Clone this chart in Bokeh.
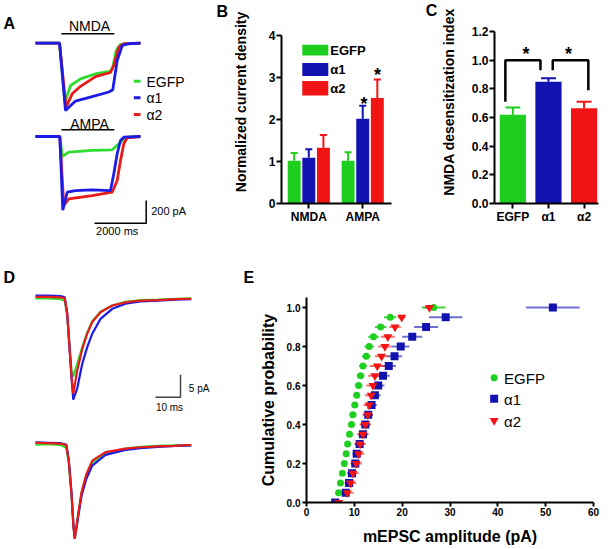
from bokeh.plotting import figure
from bokeh.layouts import row, column
from bokeh.models import Label, FixedTicker, PrintfTickFormatter, Range1d
from bokeh.embed import file_html
from bokeh.resources import INLINE

FONT = "Liberation Sans"
GREEN, BLUE, RED = "#1fcf1f", "#1212b0", "#f21414"
TGREEN, TBLUE, TRED = "#30dc30", "#1c1ce6", "#e91a1a"

# ---------------- DATA ----------------
# Panel A: whole-cell currents (time in ms, current in pA)
a_t_nmda_egfp = [0, 930, 1140, 1354, 1741, 2321, 2901, 2990, 3121, 3288, 4060]
a_i_nmda_egfp = [0, 0, -520, -373, -314, -270, -247, -211, -64, -10, 0]
a_t_nmda_a1 = [0, 930, 1160, 1547, 2193, 2837, 2990, 3160, 3354, 3600, 4060]
a_i_nmda_a1 = [0, 0, -593, -510, -470, -430, -410, -152, -20, -5, 0]
a_t_nmda_a2 = [0, 930, 1180, 1420, 1741, 2321, 2901, 3029, 3222, 3420, 4060]
a_i_nmda_a2 = [0, 0, -564, -446, -380, -295, -258, -196, -35, -5, 0]
a_t_ampa_egfp = [0, 940, 1033, 1288, 2193, 2967, 3222, 3415, 3597, 4060]
a_i_ampa_egfp = [0, 0, -176, -138, -123, -117, -64, -20, -5, 0]
a_t_ampa_a1 = [0, 940, 1055, 1225, 1547, 2193, 2901, 3029, 3160, 3288, 3416, 4060]
a_i_ampa_a1 = [0, 0, -650, -491, -476, -470, -476, -328, -152, -35, -6, 0]
a_t_ampa_a2 = [0, 940, 1095, 1288, 2193, 2967, 3160, 3288, 3416, 3545, 4060]
a_i_ampa_a2 = [0, 0, -608, -549, -520, -491, -388, -211, -64, -11, 0]
a_application = [1000, 3050]          # ms, agonist application bar
a_scale_ms, a_scale_pa = 2000, 200

# Panel B: normalized current density
b_conditions = ["NMDA", "AMPA"]
b_egfp = [1.02, 1.02]
b_egfp_sem = [0.18, 0.20]
b_a1 = [1.09, 2.02]
b_a1_sem = [0.20, 0.31]
b_a2 = [1.33, 2.51]
b_a2_sem = [0.30, 0.44]

# Panel C: NMDA desensitization index
c_groups = ["EGFP", "\u03b11", "\u03b12"]
c_mean = [0.62, 0.85, 0.665]
c_sem = [0.05, 0.023, 0.045]

# Panel D: averaged mEPSCs (time in ms, current in pA)
d_t_top = [0, 5, 10, 11.7, 12.7, 13.6, 14.4, 15.1, 16.7, 18.7, 20.7, 22.7, 26, 30.7, 36, 42, 49, 56, 62.3]
d_top_egfp = [-0.4, -0.4, -0.6, -1.0, -4.2, -11.0, -16.5, -17.9, -15.0, -11.3, -8.0, -5.5, -3.4, -2.0, -1.2, -0.8, -0.7, -0.5, -0.4]
d_top_a1 = [0.2, 0.2, 0.1, -0.2, -3.9, -11.3, -18.0, -23.0, -20.5, -15.0, -11.3, -8.3, -5.0, -2.75, -1.6, -1.1, -0.9, -0.7, -0.6]
d_top_a2 = [-0.1, -0.1, -0.2, -0.4, -3.9, -11.3, -18.0, -21.7, -16.5, -11.7, -8.3, -5.7, -3.5, -2.0, -1.3, -0.9, -0.8, -0.6, -0.5]
d_t_bot = [0, 5, 10, 12.3, 13.3, 14.4, 15.2, 15.7, 17.1, 18.4, 20.3, 22.7, 28, 36, 42, 49, 56, 62.3]
d_bot_egfp = [-0.3, -0.2, -0.4, -1.0, -4.3, -11.5, -18.7, -21.3, -15.8, -11.2, -7.3, -4.3, -2.2, -1.2, -0.8, -0.6, -0.5, -0.5]
d_bot_a1 = [0.2, 0.1, 0.0, -0.3, -3.7, -11.0, -18.5, -21.3, -16.3, -11.8, -8.0, -5.0, -2.6, -1.5, -1.1, -0.8, -0.6, -0.5]
d_bot_a2 = [0.1, 0.0, -0.1, -0.4, -3.9, -11.3, -18.7, -21.3, -15.8, -11.0, -7.0, -3.9, -2.0, -1.2, -0.9, -0.7, -0.6, -0.4]
d_scale_ms, d_scale_pa = 10, 5

# Panel E: cumulative probability of mEPSC amplitude
e_prob = [0.0, 0.05, 0.1, 0.15, 0.2, 0.25, 0.3, 0.35, 0.4, 0.45, 0.5,
          0.55, 0.6, 0.65, 0.7, 0.75, 0.8, 0.85, 0.9, 0.95, 1.0]
e_egfp = [6.0, 6.7, 7.1, 7.5, 7.9, 8.3, 8.6, 9.0, 9.4, 9.7, 10.1, 10.5, 10.9, 11.3, 11.8, 12.5, 13.1, 14.0, 15.5, 17.5, 26.6]
e_egfp_sem = [0.3, 0.5, 0.5, 0.5, 0.5, 0.6, 0.6, 0.6, 0.6, 0.7, 0.7, 0.7, 0.8, 0.8, 0.8, 0.9, 1.0, 1.1, 1.2, 1.3, 2.5]
e_a1 = [6.0, 8.2, 8.9, 9.5, 10.2, 10.5, 11.1, 11.8, 12.3, 12.9, 13.6, 14.3, 15.0, 16.0, 17.2, 18.4, 19.7, 22.1, 25.0, 29.1, 51.5]
e_a1_sem = [0.3, 0.9, 0.9, 0.9, 0.9, 0.9, 1.0, 1.0, 1.0, 1.0, 1.1, 1.2, 1.3, 1.4, 1.5, 1.6, 1.8, 2.1, 2.5, 3.5, 5.6]
e_a2 = [6.7, 8.5, 9.2, 9.7, 10.4, 10.9, 11.2, 11.8, 12.3, 12.8, 13.1, 13.5, 13.9, 14.3, 14.8, 15.7, 16.4, 17.0, 18.5, 19.9, 25.7]
e_a2_sem = [0.5, 1.3, 1.2, 1.2, 1.2, 1.2, 1.2, 1.2, 1.2, 1.1, 1.2, 1.3, 1.4, 1.4, 1.6, 1.4, 1.4, 1.45, 1.2, 0.8, 1.0]


# ---------------- HELPERS ----------------
def make_fig(box, frame, xr, yr, axes):
    x0, y0, x1, y1 = box
    fx0, fx1, fy0, fy1 = frame
    p = figure(width=x1 - x0, height=y1 - y0,
               x_range=Range1d(*xr), y_range=Range1d(*yr),
               output_backend="svg", toolbar_location=None,
               min_border_left=int(round(fx0 - x0)), min_border_right=int(round(x1 - fx1)),
               min_border_top=int(round(fy0 - y0)), min_border_bottom=int(round(y1 - fy1)),
               x_axis_location="below" if axes else None,
               y_axis_location="left" if axes else None)
    p.frame_align = False
    p.outline_line_color = None
    p.xgrid.grid_line_color = None
    p.ygrid.grid_line_color = None
    p.background_fill_color = "white"
    p.border_fill_color = "white"

    def m(xref, yref):
        x = xr[0] + (xref - fx0) / (fx1 - fx0) * (xr[1] - xr[0])
        y = yr[1] - (yref - fy0) / (fy1 - fy0) * (yr[1] - yr[0])
        return x, y
    return p, m


def text(p, m, xref, yref, s, size, style="normal", align="left", color="black"):
    x, y = m(xref, yref)
    p.add_layout(Label(x=x, y=y, text=s, text_font=FONT, text_font_size=size,
                       text_font_style=style, text_align=align,
                       text_baseline="middle", text_color=color))


def style_axis(ax, tick_size, label_size, tick_out=5, label_standoff=1):
    ax.axis_line_width = 2
    ax.axis_line_color = "black"
    ax.major_tick_line_width = 2
    ax.major_tick_line_color = "black"
    ax.major_tick_in = 0
    ax.major_tick_out = tick_out
    ax.minor_tick_line_color = None
    ax.major_label_text_font = FONT
    ax.major_label_text_font_style = "bold"
    ax.major_label_text_font_size = tick_size
    ax.major_label_text_color = "black"
    ax.major_label_standoff = label_standoff
    ax.axis_label_text_font = FONT
    ax.axis_label_text_font_style = "bold"
    ax.axis_label_text_font_size = label_size
    ax.axis_label_text_color = "black"


# ---------------- PANEL A ----------------
A_MS_PX = 2000 / 51.7
A_PA_PX = 200 / 22.7
A_X0, A_Y0 = 35, 42.7
boxA = (0, 0, 229, 250)
xrA = ((boxA[0] - A_X0) * A_MS_PX, (boxA[2] - A_X0) * A_MS_PX)
yrA = ((A_Y0 - boxA[3]) * A_PA_PX, (A_Y0 - boxA[1]) * A_PA_PX)
pA, mA = make_fig(boxA, (boxA[0], boxA[2], boxA[1], boxA[3]), xrA, yrA, False)
AMPA_OFF = -(136 - A_Y0) * A_PA_PX

for t, i, c in [(a_t_nmda_egfp, a_i_nmda_egfp, TGREEN), (a_t_nmda_a2, a_i_nmda_a2, TRED),
                (a_t_nmda_a1, a_i_nmda_a1, TBLUE)]:
    pA.line(t, i, line_color=c, line_width=2.8)
for t, i, c in [(a_t_ampa_egfp, a_i_ampa_egfp, TGREEN), (a_t_ampa_a2, a_i_ampa_a2, TRED),
                (a_t_ampa_a1, a_i_ampa_a1, TBLUE)]:
    pA.line(t, [v + AMPA_OFF for v in i], line_color=c, line_width=2.8)

for yref in (33.3, 129.3):
    _, yy = mA(0, yref)
    pA.line(a_application, [yy, yy], line_color="black", line_width=1.5)
text(pA, mA, 89, 25.7, "NMDA", "14px", align="center")
text(pA, mA, 89, 123.3, "AMPA", "14px", align="center")

for yref, c, lab in [(80.7, TGREEN, "EGFP"), (97.3, TBLUE, "\u03b11"), (114, TRED, "\u03b12")]:
    xa, ya = mA(133.3, yref)
    xb, _ = mA(140, yref)
    pA.line([xa, xb], [ya, ya], line_color=c, line_width=3)
    text(pA, mA, 146, yref + 0.5, lab, "14px")

cx, cy = mA(145.7, 222.7)
pA.line([cx - a_scale_ms, cx, cx], [cy, cy, cy + a_scale_pa], line_color="black", line_width=1.5)
text(pA, mA, 150.7, 210, "200 pA", "11px")
text(pA, mA, 116.7, 230.3, "2000 ms", "11px", align="center")
text(pA, mA, 3, 23, "A", "16px", style="bold")
text(pA, mA, 216, 11, "B", "16px", style="bold")

# ---------------- PANEL B ----------------
boxB = (229, 0, 437, 250)
frameB = (277, 437, 0, 203)
B_PX = 55.3          # px per group
B_PY = 42.0          # px per unit
xrB = (1 - (305 - frameB[0]) / B_PX, 1 + (frameB[1] - 305) / B_PX)
yrB = (0, (frameB[3] - frameB[2]) / B_PY)
pB, mB = make_fig(boxB, frameB, xrB, yrB, True)
bw, off = 0.24, 0.271
for k, (vals, sems, c) in enumerate([(b_egfp, b_egfp_sem, GREEN), (b_a1, b_a1_sem, BLUE),
                                      (b_a2, b_a2_sem, RED)]):
    xs = [g + 1 + (k - 1) * off for g in range(len(b_conditions))]
    tops = [v + s for v, s in zip(vals, sems)]
    pB.segment(x0=xs, y0=vals, x1=xs, y1=tops, line_color=c, line_width=2)
    pB.scatter(xs, tops, marker="dash", size=7, line_color=c, line_width=2)
    pB.vbar(x=xs, top=vals, bottom=0, width=bw, fill_color=c, line_color=None)

style_axis(pB.xaxis[0], "12px", "14px", tick_out=5, label_standoff=1)
style_axis(pB.yaxis[0], "12px", "14px", tick_out=5, label_standoff=1)
pB.xaxis.ticker = FixedTicker(ticks=[1, 2])
pB.xaxis.major_label_overrides = {1: b_conditions[0], 2: b_conditions[1]}
pB.xaxis.bounds = (xrB[0], 2 + (390 - 360.3) / B_PX)
pB.yaxis.ticker = FixedTicker(ticks=[0, 1, 2, 3, 4])
pB.yaxis.bounds = (0, 4)
pB.yaxis.axis_label = "Normalized current density"
pB.yaxis.axis_label_standoff = 17

for (y0r, y1r), c, lab in [((44.3, 55), GREEN, "EGFP"), ((62.5, 75.5), BLUE, "\u03b11"),
                           ((80.5, 95), RED, "\u03b12")]:
    xa, ya = mB(298.3, y1r)
    xb, yb = mB(325, y0r)
    pB.quad(left=xa, right=xb, bottom=ya, top=yb, fill_color=c, line_color=None)
    text(pB, mB, 327, (y0r + y1r) / 2, lab, "13px", style="bold")
text(pB, mB, 361.5, 103, "*", "18px", style="bold", align="center")
text(pB, mB, 375.5, 74, "*", "18px", style="bold", align="center")
text(pB, mB, 425, 10, "C", "16px", style="bold")

# ---------------- PANEL C ----------------
boxC = (437, 0, 606, 250)
frameC = (492, 598, 0, 203)
C_PX = 36.3
C_PY = (203 - 31) / 1.2
xrC = (-(510.7 - frameC[0]) / C_PX, (frameC[1] - 510.7) / C_PX)
yrC = (0, (frameC[3] - frameC[2]) / C_PY)
pC, mC = make_fig(boxC, frameC, xrC, yrC, True)
cols = [GREEN, BLUE, RED]
xsC = list(range(len(c_groups)))
topsC = [v + s for v, s in zip(c_mean, c_sem)]
pC.segment(x0=xsC, y0=c_mean, x1=xsC, y1=topsC, line_color=cols, line_width=2)
pC.scatter(xsC, topsC, marker="dash", size=15, line_color=cols, line_width=2)
pC.vbar(x=xsC, top=c_mean, bottom=0, width=0.735, fill_color=cols, line_color=None)
pC.line([-0.21, -0.21, 0.775, 0.775], [0.71, 1.0, 1.0, 0.93], line_color="black", line_width=2.5)
pC.line([1.12, 1.12, 2.12, 2.12], [0.93, 1.0, 1.0, 0.79], line_color="black", line_width=2.5)
text(pC, mC, 524, 53, "*", "18px", style="bold", align="center")
text(pC, mC, 567.5, 53, "*", "18px", style="bold", align="center")

style_axis(pC.xaxis[0], "12px", "14px", tick_out=5, label_standoff=1)
style_axis(pC.yaxis[0], "12px", "14px", tick_out=5, label_standoff=1)
pC.xaxis.ticker = FixedTicker(ticks=xsC)
pC.xaxis.major_label_overrides = {i: g for i, g in enumerate(c_groups)}
pC.yaxis.ticker = FixedTicker(ticks=[0, 0.2, 0.4, 0.6, 0.8, 1.0, 1.2])
pC.yaxis.bounds = (0, 1.2)
pC.yaxis.formatter = PrintfTickFormatter(format="%.1f")
pC.yaxis.axis_label = "NMDA desensitization index"
pC.yaxis.axis_label_standoff = 12

# ---------------- PANEL D ----------------
D_MS_PX = 0.4
D_PA_PX = 1 / 4.48
D_X0, D_Y0 = 35, 296
boxD = (0, 250, 256, 547)
xrD = ((boxD[0] - D_X0) * D_MS_PX, (boxD[2] - D_X0) * D_MS_PX)
yrD = ((D_Y0 - boxD[3]) * D_PA_PX, (D_Y0 - boxD[1]) * D_PA_PX)
pD, mD = make_fig(boxD, (boxD[0], boxD[2], boxD[1], boxD[3]), xrD, yrD, False)
BOT_OFF = -(442.7 - D_Y0) * D_PA_PX
for vals, c in [(d_top_egfp, TGREEN), (d_top_a1, TBLUE), (d_top_a2, TRED)]:
    pD.line(d_t_top, vals, line_color=c, line_width=2.2)
for vals, c in [(d_bot_egfp, TGREEN), (d_bot_a1, TBLUE), (d_bot_a2, TRED)]:
    pD.line(d_t_bot, [v + BOT_OFF for v in vals], line_color=c, line_width=2.2)
cx, cy = mD(180, 396.7)
pD.line([cx - d_scale_ms, cx, cx], [cy, cy, cy + d_scale_pa], line_color="#444444", line_width=1.5)
text(pD, mD, 188.3, 388, "5 pA", "10px")
text(pD, mD, 169, 407.4, "10 ms", "10px", align="center")
text(pD, mD, 3, 276.5, "D", "16px", style="bold")
text(pD, mD, 243, 276.5, "E", "16px", style="bold")

# ---------------- PANEL E ----------------
boxE = (256, 250, 606, 547)
frameE = (305, 593, 297, 502)
pE, mE = make_fig(boxE, frameE, (0, 60), (0, (502 - 297) / 195), True)
for xs, ss, c, a in [(e_egfp, e_egfp_sem, GREEN, 0.85), (e_a1, e_a1_sem, BLUE, 0.6),
                     (e_a2, e_a2_sem, RED, 0.6)]:
    pE.segment(x0=[x - s for x, s in zip(xs, ss)], y0=e_prob,
               x1=[x + s for x, s in zip(xs, ss)], y1=e_prob,
               line_color=c, line_width=2, line_alpha=a)
for xs, c, mk, sz in [(e_egfp, GREEN, "circle", 7), (e_a1, BLUE, "square", 8),
                      (e_a2, RED, "inverted_triangle", 9)]:
    pE.scatter(xs, e_prob, marker=mk, size=sz, fill_color=c, line_color=None)

style_axis(pE.xaxis[0], "10px", "16px", tick_out=4, label_standoff=1)
style_axis(pE.yaxis[0], "10px", "16px", tick_out=4, label_standoff=2)
pE.xaxis.ticker = FixedTicker(ticks=[0, 10, 20, 30, 40, 50, 60])
pE.yaxis.ticker = FixedTicker(ticks=[0, 0.2, 0.4, 0.6, 0.8, 1.0])
pE.yaxis.formatter = PrintfTickFormatter(format="%.1f")
pE.xaxis.axis_label = "mEPSC amplitude (pA)"
pE.yaxis.axis_label = "Cumulative probability"
pE.xaxis.axis_label_standoff = 9
pE.yaxis.axis_label_standoff = 7

for yref, c, mk, sz, lab in [(377.3, GREEN, "circle", 7, "EGFP"),
                             (398.3, BLUE, "square", 8, "\u03b11"),
                             (420, RED, "inverted_triangle", 9, "\u03b12")]:
    lx, ly = mE(493.3, yref)
    pE.scatter([lx], [ly], marker=mk, size=sz, fill_color=c, line_color=None)
    text(pE, mE, 503.3, yref + 0.5, lab, "15px")

layout = column(row(pA, pB, pC), row(pD, pE))
open("out.html", "w").write(file_html(layout, INLINE, title="Figure"))
